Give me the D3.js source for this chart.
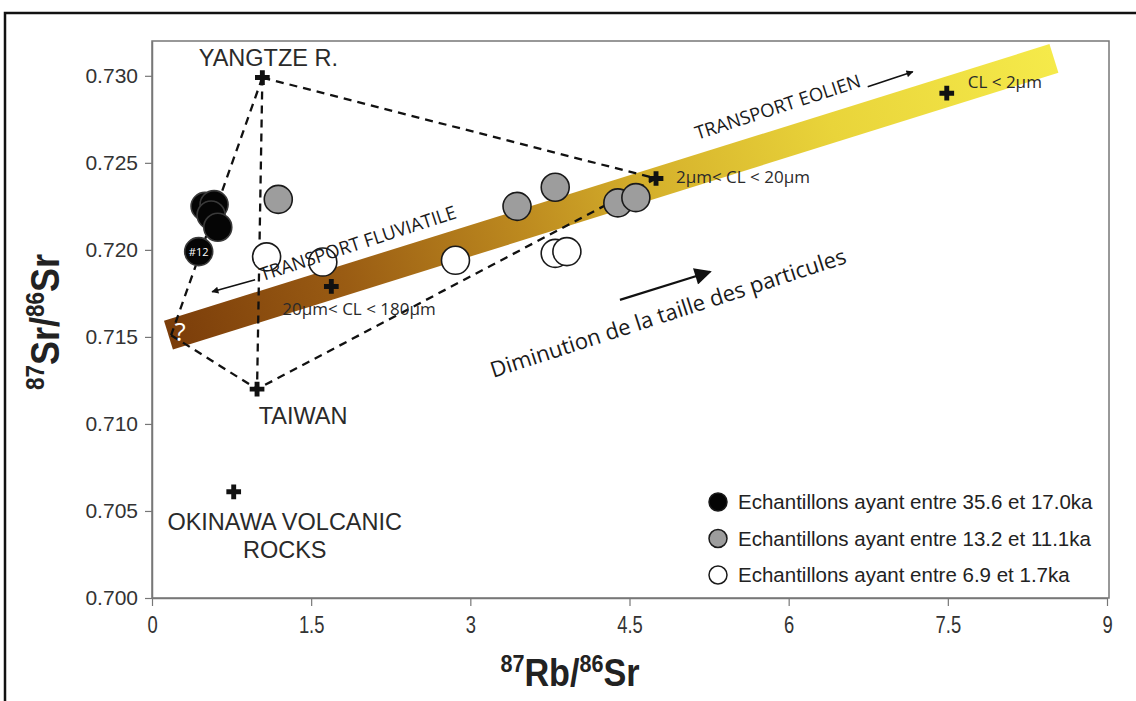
<!DOCTYPE html>
<html>
<head>
<meta charset="utf-8">
<script src="https://cdn.jsdelivr.net/npm/d3@7"></script>
<style>
  body { margin: 0; background: #fff; }
  svg { display: block; }
</style>
</head>
<body>
<svg id="chart" width="1136" height="701"></svg>
<script>
// ---- data ----
const xTicks = [0, 1.5, 3, 4.5, 6, 7.5, 9]
const yTicks = [0.700, 0.705, 0.710, 0.715, 0.720, 0.725, 0.730]

// samples 35.6 - 17.0 ka (black)
const blackPoints = [[0.50, 0.7225], [0.585, 0.7226], [0.557, 0.7220], [0.62, 0.7213]]
const sample12 = [0.44, 0.7199]
// samples 13.2 - 11.1 ka (grey)
const greyPoints = [[1.19, 0.7229], [3.44, 0.7225], [3.80, 0.7236], [4.39, 0.7227], [4.56, 0.7230]]
// samples 6.9 - 1.7 ka (white)
const whitePoints = [[1.08, 0.7196], [1.61, 0.7193], [2.86, 0.7194], [3.80, 0.7198], [3.91, 0.7199]]

// end members (crosses)
const yangtze = [1.04, 0.7299]
const taiwan = [0.99, 0.7120]
const okinawa = [0.77, 0.7061]
const clCoarse = [1.69, 0.7179]
const clMedium = [4.75, 0.7241]
const clFine = [7.49, 0.7290]
const unknown = [0.18, 0.7151]

// mixing band ends
const bandStart = [0.155, 0.7151]
const bandEnd = [8.50, 0.7310]

const legendLabels = [
  'Echantillons ayant entre 35.6 et 17.0ka',
  'Echantillons ayant entre 13.2 et 11.1ka',
  'Echantillons ayant entre 6.9 et 1.7ka'
]

// ---- setup ----
const svg = d3.select('#chart')
const x = d3.scaleLinear().domain([0, 9]).range([152, 1107])
const y = d3.scaleLinear().domain([0.700, 0.732]).range([598, 41])
const P = d => [x(d[0]), y(d[1])]

const sans = 'Liberation Sans, Arial, sans-serif'
const myriad = 'Open Sans, Noto Sans, sans-serif'

// outer frame
svg.append('rect')
  .attr('x', 5).attr('y', 13).attr('width', 1145).attr('height', 700)
  .attr('fill', 'none').attr('stroke', '#111').attr('stroke-width', 2.5)

// plot box
svg.append('rect')
  .attr('x', x(0)).attr('y', y(0.732))
  .attr('width', 1109 - x(0)).attr('height', y(0.700) - y(0.732))
  .attr('fill', 'none').attr('stroke', '#777').attr('stroke-width', 1.5)

// axes
const yAxis = svg.append('g')
  .attr('transform', `translate(${x(0)},0)`)
  .call(d3.axisLeft(y).tickValues(yTicks).tickFormat(d3.format('.3f')).tickSize(7).tickSizeOuter(0).tickPadding(7))
yAxis.select('.domain').attr('stroke', '#777').attr('stroke-width', 1.5)
yAxis.selectAll('.tick line').attr('stroke', '#777').attr('stroke-width', 1.2)
yAxis.selectAll('.tick text').attr('font-family', sans).attr('font-size', 21).attr('fill', '#333')

const xAxis = svg.append('g')
  .attr('transform', `translate(0,${y(0.700)})`)
  .call(d3.axisBottom(x).tickValues(xTicks).tickFormat(d => d).tickSize(8).tickSizeOuter(0).tickPadding(11))
xAxis.select('.domain').attr('stroke', '#777').attr('stroke-width', 1.5)
xAxis.selectAll('.tick line').attr('stroke', '#777').attr('stroke-width', 1.2)
// narrow look for the x tick labels
xAxis.selectAll('.tick text').attr('font-family', sans).attr('font-size', 23)
  .attr('fill', '#333').attr('transform', 'scale(0.8,1)')

// axis titles
function isotopeTitle (g, parts, size) {
  const sup = Math.round(size * 0.62)
  const t = g.append('text').attr('font-family', sans).attr('font-weight', 'bold')
    .attr('font-size', size).attr('fill', '#222').attr('text-anchor', 'middle')
    .attr('transform', 'scale(0.9,1)')
  let prevSup = false
  parts.forEach(([txt, isSup], i) => {
    const shift = isSup ? (prevSup ? 0 : (i === 0 ? -size * 0.38 : -size * 0.38)) : (i === 0 ? 0 : size * 0.38)
    t.append('tspan').attr('font-size', isSup ? sup : size)
      .attr('dy', shift).text(txt)
    prevSup = isSup
  })
  return t
}
isotopeTitle(svg.append('g').attr('transform', 'translate(570,686)'),
  [['87', true], ['Rb/', false], ['86', true], ['Sr', false]], 38)
isotopeTitle(svg.append('g').attr('transform', 'translate(59,322) rotate(-90)'),
  [['87', true], ['Sr/', false], ['86', true], ['Sr', false]], 40)

// band with gradient
const a = P(bandStart), b = P(bandEnd)
const len = Math.hypot(b[0] - a[0], b[1] - a[1])
const ux = (b[0] - a[0]) / len, uy = (b[1] - a[1]) / len
const half = 15
const nx = -uy * half, ny = ux * half
const defs = svg.append('defs')
const grad = defs.append('linearGradient').attr('id', 'bandGrad')
  .attr('gradientUnits', 'userSpaceOnUse')
  .attr('x1', a[0]).attr('y1', a[1]).attr('x2', b[0]).attr('y2', b[1])
const stops = [[0, '#7b3d0a'], [0.2, '#9a5c13'], [0.4, '#bd8a1f'], [0.55, '#d6b22c'], [0.75, '#e9d43a'], [1, '#f5ea4a']]
stops.forEach(([o, c]) => grad.append('stop').attr('offset', o).attr('stop-color', c))

svg.append('path')
  .attr('d', d3.line()([
    [a[0] + nx, a[1] + ny], [b[0] + nx, b[1] + ny],
    [b[0] - nx, b[1] - ny], [a[0] - nx, a[1] - ny]
  ]) + 'Z')
  .attr('fill', 'url(#bandGrad)')

// arrow markers
defs.append('marker').attr('id', 'arrowSmall').attr('viewBox', '0 0 10 10')
  .attr('refX', 9).attr('refY', 5).attr('markerWidth', 9).attr('markerHeight', 7)
  .attr('orient', 'auto').attr('markerUnits', 'userSpaceOnUse')
  .append('path').attr('d', 'M0,0L10,5L0,10Z').attr('fill', '#111')
defs.append('marker').attr('id', 'arrowBig').attr('viewBox', '0 0 10 10')
  .attr('refX', 9).attr('refY', 5).attr('markerWidth', 24).attr('markerHeight', 17)
  .attr('orient', 'auto').attr('markerUnits', 'userSpaceOnUse')
  .append('path').attr('d', 'M0,0L10,5L0,10Z').attr('fill', '#111')

// dashed mixing triangles
const dashed = [
  [yangtze, taiwan], [yangtze, unknown], [unknown, taiwan],
  [yangtze, clMedium], [clMedium, taiwan]
]
svg.append('g').selectAll('line').data(dashed).join('line')
  .attr('x1', d => x(d[0][0])).attr('y1', d => y(d[0][1]))
  .attr('x2', d => x(d[1][0])).attr('y2', d => y(d[1][1]))
  .attr('stroke', '#111').attr('stroke-width', 2.3).attr('stroke-dasharray', '8,6')

// end member crosses
const crossPath = d3.symbol(d3.symbolCross, 120)()
svg.append('g').selectAll('path')
  .data([yangtze, taiwan, okinawa, clCoarse, clMedium, clFine]).join('path')
  .attr('d', crossPath)
  .attr('transform', d => `translate(${x(d[0])},${y(d[1])})`)
  .attr('fill', '#111')

// sample circles
const r = 14
function circles (data, fill, stroke) {
  svg.append('g').selectAll('circle').data(data).join('circle')
    .attr('cx', d => x(d[0])).attr('cy', d => y(d[1])).attr('r', r)
    .attr('fill', fill).attr('stroke', stroke).attr('stroke-width', 1.6)
}
circles(whitePoints, '#fff', '#1a1a1a')
circles(greyPoints, '#9d9d9d', '#1a1a1a')
circles(blackPoints, '#050505', '#3a3a3a')
circles([sample12], '#050505', '#3a3a3a')
svg.append('text').attr('x', x(sample12[0])).attr('y', y(sample12[1]) + 4)
  .attr('text-anchor', 'middle').attr('font-family', myriad).attr('font-size', 11)
  .attr('fill', '#fff').text('#12')

// end member labels
function label (pt, dx, dy, txt, opts = {}) {
  svg.append('text')
    .attr('x', x(pt[0]) + dx).attr('y', y(pt[1]) + dy)
    .attr('text-anchor', opts.anchor || 'middle')
    .attr('font-family', opts.font || sans)
    .attr('font-size', opts.size || 23.5)
    .attr('fill', opts.fill || '#2a2a2a')
    .text(txt)
}
label(yangtze, 6, -12, 'YANGTZE  R.')
label(taiwan, 46, 35, 'TAIWAN')
label(okinawa, 51, 38, 'OKINAWA VOLCANIC')
label(okinawa, 51, 66, 'ROCKS')
label(clCoarse, -49, 29, '20µm< CL < 180µm', { anchor: 'start', font: myriad, size: 17 })
label(clMedium, 20, 4, '2µm< CL < 20µm', { anchor: 'start', font: myriad, size: 17 })
label(clFine, 21, -5, 'CL < 2µm', { anchor: 'start', font: myriad, size: 17 })

// "?" on the band
svg.append('text').attr('x', x(0.264)).attr('y', y(0.71475))
  .attr('text-anchor', 'middle').attr('font-family', myriad).attr('font-size', 26)
  .attr('fill', '#fff').text('?')

// rotated annotations
function rotText (pt, angle, txt, size) {
  const [px, py] = P(pt)
  svg.append('text').attr('transform', `translate(${px},${py}) rotate(${angle})`)
    .attr('font-family', myriad).attr('font-size', size).attr('fill', '#1a1a1a')
    .text(txt)
}
rotText([1.04, 0.7182], -18, 'TRANSPORT FLUVIATILE', 18.5)
rotText([5.14, 0.72632], -18, 'TRANSPORT EOLIEN', 18.5)
rotText([3.217, 0.71264], -18, 'Diminution de la taille des particules', 22)

function arrow (from, to, marker, width) {
  svg.append('line')
    .attr('x1', x(from[0])).attr('y1', y(from[1]))
    .attr('x2', x(to[0])).attr('y2', y(to[1]))
    .attr('stroke', '#111').attr('stroke-width', width)
    .attr('marker-end', `url(#${marker})`)
}
arrow([0.972, 0.71828], [0.566, 0.71759], 'arrowSmall', 1.6)
arrow([6.745, 0.72937], [7.17, 0.73023], 'arrowSmall', 1.6)
arrow([4.41, 0.71713], [5.26, 0.71874], 'arrowBig', 2.2)

// legend
const legendFills = ['#050505', '#9d9d9d', '#fff']
const legend = svg.append('g')
legendLabels.forEach((t, i) => {
  const ly = 502 + i * 36.5
  legend.append('circle').attr('cx', 718).attr('cy', ly).attr('r', 9)
    .attr('fill', legendFills[i]).attr('stroke', '#1a1a1a').attr('stroke-width', 1.5)
  legend.append('text').attr('x', 738).attr('y', ly + 7)
    .attr('font-family', sans).attr('font-size', 20.5).attr('fill', '#222').text(t)
})
</script>
</body>
</html>
